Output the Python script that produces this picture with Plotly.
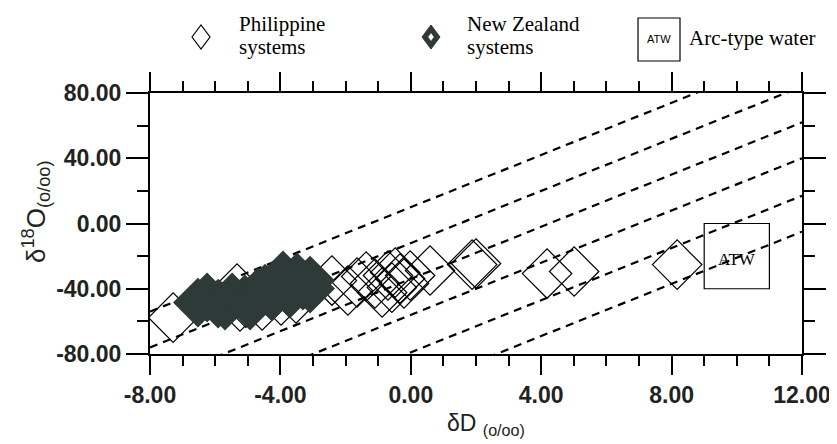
import plotly.graph_objects as go

# ---------------- data ----------------
ph_dD = [-7.29, -5.33, -5.24, -5.06, -4.56, -3.98, -3.52,
         -2.42, -1.93, -1.65, -1.37, -1.10, -0.88, -0.70, -0.48, -0.33, -0.21, -0.58, -0.02,
         0.59, 1.88, 2.00, 4.18, 5.01, 8.17]
ph_d18O = [-57.7, -39.9, -50.9, -48.5, -50.3, -47.2, -46.0,
           -35.0, -41.1, -36.2, -32.5, -36.8, -42.3, -31.9, -30.1, -33.7, -36.8, -39.3, -31.9,
           -28.8, -25.2, -24.5, -30.7, -29.4, -25.2]

nz_dD = [-6.53, -6.25, -5.91, -5.48, -5.70, -5.09, -4.93, -4.69, -4.47, -4.26,
         -3.92, -3.77, -3.49, -3.31, -3.09, -3.09, -3.71]
nz_d18O = [-48.5, -45.4, -49.1, -45.4, -50.3, -46.6, -50.3, -42.3, -39.9, -44.8,
           -31.9, -38.0, -33.1, -38.0, -35.0, -39.9, -42.9]

mwl_slope = 8
mwl_intercepts = [10, -12, -34, -56, -79, -101]

atw_dD = [9, 11]
atw_d18O = [-40, 0]

x_tickvals = [-8, -4, 0, 4, 8, 12]
x_ticktext = ["-8.00", "-4.00", "0.00", "4.00", "8.00", "12.00"]
y_tickvals = [-80, -40, 0, 40, 80]
y_ticktext = ["-80.00", "-40.00", "0.00", "40.00", "80.00"]

x_range = [-8, 12]
y_range = [-80, 80]

# ---------------- figure ----------------
# page body has an 8px margin, so the figure is sized to fit the 837x444 window
OFF = 8
W, H = 837 - OFF, 444 - OFF
L, R, T, B = 150 - OFF, 35, 93 - OFF, 90
NZ_COLOR = "#2d3a37"

fig = go.Figure()

for c in mwl_intercepts:
    xs = list(x_range)
    ys = [mwl_slope * x + c for x in xs]
    fig.add_trace(go.Scatter(x=xs, y=ys, mode="lines",
                             line=dict(color="black", width=2.2, dash="8px,6px"),
                             hoverinfo="skip", showlegend=False))

fig.add_trace(go.Scatter(x=ph_dD, y=ph_d18O, mode="markers", name="Philippine systems",
                         marker=dict(symbol="diamond-open", size=38, color="black",
                                     line=dict(width=1.2, color="black")),
                         showlegend=False))

fig.add_trace(go.Scatter(x=nz_dD, y=nz_d18O, mode="markers", name="New Zealand systems",
                         marker=dict(symbol="diamond-open", size=21.5, color=NZ_COLOR,
                                     line=dict(width=15.5, color=NZ_COLOR)),
                         showlegend=False))

# Arc-type water box
fig.add_shape(type="rect", xref="x", yref="y",
              x0=atw_dD[0], x1=atw_dD[1], y0=atw_d18O[0], y1=atw_d18O[1],
              line=dict(color="black", width=1.2), fillcolor="rgba(0,0,0,0)")
fig.add_annotation(x=sum(atw_dD) / 2, y=sum(atw_d18O) / 2 - 2, xref="x", yref="y",
                   text="ATW", showarrow=False,
                   font=dict(family="Liberation Serif", size=17, color="black"))

# ---------------- manual legend and titles (window pixel -> paper) ----------------
pw, ph = W - L - R, H - T - B


def px(x):
    return (x - OFF - L) / pw


def py(y):
    return (H - B - (y - OFF)) / ph


def diamond_path(cx, cy, hw, hh):
    return (f"M {px(cx - hw)} {py(cy)} L {px(cx)} {py(cy - hh)} "
            f"L {px(cx + hw)} {py(cy)} L {px(cx)} {py(cy + hh)} Z")


fig.add_shape(type="path", xref="paper", yref="paper", path=diamond_path(201, 37, 9, 12),
              line=dict(color="black", width=1.2), fillcolor="white")
fig.add_shape(type="path", xref="paper", yref="paper", path=diamond_path(431, 37, 9, 12),
              line=dict(color=NZ_COLOR, width=1), fillcolor=NZ_COLOR)
fig.add_shape(type="path", xref="paper", yref="paper", path=diamond_path(431, 37, 2.5, 3.5),
              line=dict(color="white", width=0.5), fillcolor="white")
fig.add_shape(type="rect", xref="paper", yref="paper",
              x0=px(638), x1=px(680), y0=py(61), y1=py(18),
              line=dict(color="black", width=1.2), fillcolor="white")

leg_font = dict(family="Liberation Serif", size=21, color="black")
legend_rows = [
    (237, 24, "Philippine"), (237, 47, "systems"),
    (465, 24, "New Zealand"), (465, 47, "systems"),
    (687, 38, "Arc-type water"),
]
for lx, ly, txt in legend_rows:
    fig.add_annotation(xref="paper", yref="paper", x=px(lx), y=py(ly), xanchor="left",
                       yanchor="middle", text=txt, showarrow=False, font=leg_font)
fig.add_annotation(xref="paper", yref="paper", x=px(659), y=py(39), xanchor="center",
                   yanchor="middle", text="ATW", showarrow=False,
                   font=dict(family="Liberation Sans", size=11, color="black"))

# axis titles
fig.add_annotation(xref="paper", yref="paper", x=px(486), y=py(424), xanchor="center",
                   yanchor="middle", text="δD <sub>(o/oo)</sub>", showarrow=False,
                   font=dict(family="Liberation Sans", size=23, color="#222"))
fig.add_annotation(xref="paper", yref="paper", x=px(36), y=py(212), xanchor="center",
                   yanchor="middle", textangle=-90,
                   text="δ<sup>18</sup>O<sub>(o/oo)</sub>", showarrow=False,
                   font=dict(family="Liberation Sans", size=26, color="#222"))

tick_font = dict(family="Liberation Sans", size=23, color="#222", weight="bold")

fig.update_xaxes(range=x_range, tickmode="array", tickvals=x_tickvals, ticktext=x_ticktext,
                 ticks="outside", ticklen=19, tickwidth=2, tickcolor="black",
                 showline=True, linewidth=2, linecolor="black", mirror="allticks",
                 showgrid=False, zeroline=False, tickfont=tick_font,
                 minor=dict(tickmode="linear", tick0=0, dtick=1, ticks="outside",
                            ticklen=10, tickwidth=2, tickcolor="black", showgrid=False))
fig.update_yaxes(range=y_range, tickmode="array", tickvals=y_tickvals, ticktext=y_ticktext,
                 ticks="outside", ticklen=22, tickwidth=2, tickcolor="black",
                 showline=True, linewidth=2, linecolor="black", mirror="allticks",
                 showgrid=False, zeroline=False, tickfont=tick_font,
                 minor=dict(tickmode="linear", tick0=0, dtick=20, ticks="outside",
                            ticklen=11, tickwidth=2, tickcolor="black", showgrid=False))

fig.update_layout(width=W, height=H, margin=dict(l=L, r=R, t=T, b=B, autoexpand=False),
                  paper_bgcolor="white", plot_bgcolor="white", showlegend=False)

fig.write_html("out.html")
